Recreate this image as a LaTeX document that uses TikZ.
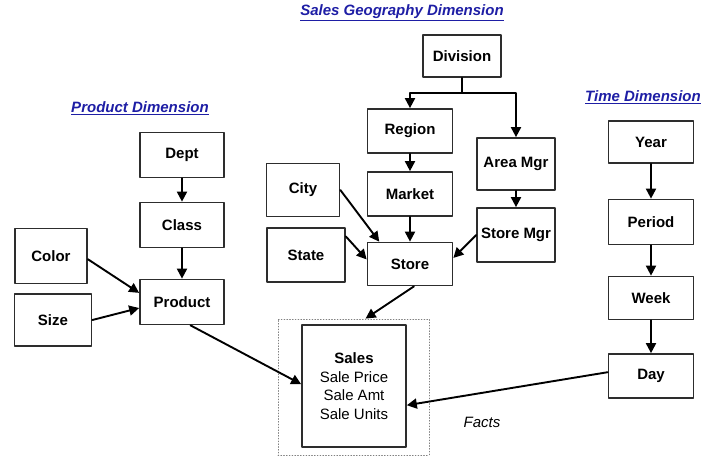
\documentclass[tikz,border=0pt]{standalone}
\usepackage{fontspec}
\setmainfont{Liberation Sans}
\usetikzlibrary{arrows.meta,calc}

\begin{document}
\begin{tikzpicture}[x=1pt,y=-1pt,line cap=round,line join=round]
  % ----- styles & colors -----
    \definecolor{titleblue}{RGB}{30,30,165}  % heading blue
    \definecolor{boxline}{RGB}{45,45,45}     % dark gray
  \tikzset{
    box/.style={draw=boxline,line width=1.7pt,fill=white,inner sep=2pt,
      minimum width=85pt,minimum height=44pt,font=\fontsize{15}{18}\selectfont\bfseries},
    title/.style={text=titleblue,font=\fontsize{15}{18}\selectfont\bfseries\itshape},
    factbox/.style={draw=gray,dotted,line width=0.8pt},
    arr/.style={draw=black,line width=1.9pt,-{Triangle[length=10pt,width=10pt]}},
    plain/.style={draw=black,line width=1.9pt}
  }

  \useasboundingbox (0,0) rectangle (709,457);

  % ----- headings -----
  \node[title] (tgeo)  at (402,13)  {\underline{Sales Geography Dimension}};
  \node[title] (tprod) at (140,108) {\underline{Product Dimension}};
  \node[title] (ttime) at (643,97)  {\underline{Time Dimension}};

  % ----- sales geography -----
  \node[box,minimum width=78pt,minimum height=42pt] (div) at (462,56) {Division};
  \node[box] (reg) at (410,131) {Region};
  \node[box] (mkt) at (410,194) {Market};
  \node[box,minimum height=43pt] (store) at (410,264) {Store};
  \node[box,minimum width=73pt,minimum height=53pt] (city) at (303,190) {City};
  \node[box,minimum width=78pt,minimum height=54pt] (state) at (306,255) {State};
  \node[box,minimum width=78pt,minimum height=52pt] (amgr) at (516,164) {Area Mgr};
  \node[box,minimum width=78pt,minimum height=54pt] (smgr) at (516,235) {Store Mgr};

  % ----- product -----
  \node[box,minimum width=84pt,minimum height=45pt] (dept) at (182,155) {Dept};
  \node[box,minimum width=84pt,minimum height=45pt] (cls) at (182,225) {Class};
  \node[box,minimum width=84pt,minimum height=45pt] (prod) at (182,302) {Product};
  \node[box,minimum width=72pt,minimum height=55pt] (color) at (51,256) {Color};
  \node[box,minimum width=77pt,minimum height=52pt] (size) at (53,320) {Size};

  % ----- time -----
  \node[box,minimum height=42pt] (year) at (651,142) {Year};
  \node[box,minimum height=45pt] (period) at (651,222) {Period};
  \node[box,minimum height=43pt] (week) at (651,298) {Week};
  \node[box] (day) at (651,376) {Day};

  % ----- facts -----
  \node[factbox,minimum width=151pt,minimum height=136pt] (facts) at (353.5,387) {};
  \node[box,minimum width=104pt,minimum height=122pt,align=center,
    font=\fontsize{15}{18.7}\selectfont] (sales) at (354,386)
    {\textbf{Sales}\\Sale Price\\Sale Amt\\Sale Units};
  \node[font=\fontsize{15}{18}\selectfont\itshape] (factlbl) at (482,422) {Facts};

  % ----- connectors -----
  \coordinate (split) at ($(div.south)+(0,15)$);
  \draw[plain] (div.south) -- (split);
  \draw[arr] (split) -| (reg.north);
  \draw[arr] (split) -| (amgr.north);
  \draw[arr] (reg) -- (mkt);
  \draw[arr] (mkt) -- (store);
  \draw[arr] (amgr) -- (smgr);
  \draw[arr] (city.east) -- (store.144);
  \draw[arr] (state.25) -- (store.174);
  \draw[arr] (smgr.west) -- (store.8);
  \draw[arr] (store.-80) -- (facts.80);

  \draw[arr] (dept) -- (cls);
  \draw[arr] (cls) -- (prod);
  \draw[arr] (color.-5) -- (prod.168);
  \draw[arr] (size.east) -- (prod.188);
  \draw[arr] (prod.-70) -- (sales.178);

  \foreach \a/\b in {year/period,period/week,week/day}{
    \draw[arr] (\a) -- (\b);
  }
  \draw[arr] (day.175) -- (sales.-20);

\end{tikzpicture}
\end{document}
